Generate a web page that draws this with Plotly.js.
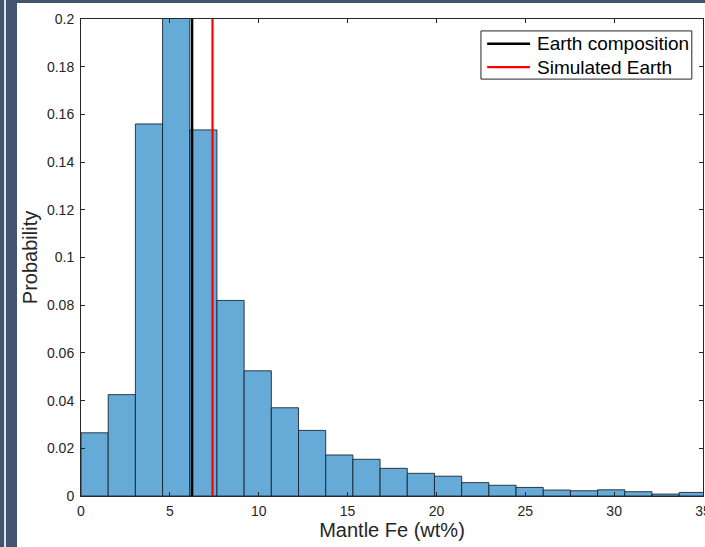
<!DOCTYPE html>
<html>
<head>
<meta charset="utf-8">
<script src="https://cdn.plot.ly/plotly-3.0.1.min.js"></script>
<style>
html,body{margin:0;padding:0;width:705px;height:547px;overflow:hidden;background:#435470;}
#stripe{position:absolute;left:4px;top:0;width:2px;height:547px;background:#dfe3ea;}
#wrap{position:absolute;left:17px;top:3px;width:720px;height:544px;background:#fff;overflow:hidden;}
#plot{width:720px;height:544px;}
</style>
</head>
<body>
<div id="stripe"></div>
<div id="wrap"><div id="plot"></div></div>
<script>
// Histogram bins (start of each bin, wt%) and probabilities
const binWidth = 1.53;
const binStarts = [0,1.53,3.06,4.59,6.12,7.65,9.18,10.71,12.24,13.77,15.30,16.83,18.36,19.89,21.42,22.95,24.48,26.01,27.54,29.07,30.60,32.13,33.66];
const probability = [0.0265,0.0425,0.156,0.215,0.1535,0.082,0.0525,0.037,0.0275,0.0172,0.0154,0.0116,0.0095,0.0083,0.0056,0.0045,0.0036,0.0025,0.0022,0.0026,0.0018,0.0008,0.0015];
const earthFe = 6.25;
const simulatedFe = 7.4;
const seriesNames = ['Earth composition', 'Simulated Earth'];
const seriesColors = ['#000000', '#ff0000'];
const xTicks = [0,5,10,15,20,25,30,35];
const yTicks = [0,0.02,0.04,0.06,0.08,0.1,0.12,0.14,0.16,0.18,0.2];
const yTickText = ['0','0.02','0.04','0.06','0.08','0.1','0.12','0.14','0.16','0.18','0.2'];

const centers = binStarts.map(s => s + binWidth/2);
const font = "'Liberation Sans', Arial, Helvetica, sans-serif";

const traces = [
  {type:'bar', x:centers, y:probability, width:binWidth,
   marker:{color:'rgb(102,170,215)', line:{color:'rgba(20,30,40,0.85)', width:1}},
   showlegend:false, hoverinfo:'skip'},
  {type:'scatter', mode:'lines', x:[earthFe,earthFe], y:[0,0.2],
   line:{color:seriesColors[0], width:2.5}, name:seriesNames[0], showlegend:false},
  {type:'scatter', mode:'lines', x:[simulatedFe,simulatedFe], y:[0,0.2],
   line:{color:seriesColors[1], width:2.2}, name:seriesNames[1], showlegend:false}
];

const axisCommon = {
  showgrid:false, zeroline:false, showline:true, mirror:'ticks',
  linecolor:'#262626', linewidth:1, ticks:'inside', ticklen:4, tickcolor:'#262626',
  tickfont:{family:font, size:14, color:'#262626'}
};

// Legend (drawn in paper coordinates, MATLAB style box)
const legX0 = 0.643, legX1 = 0.982, legYTop = 0.975, legYBot = 0.874;
const rowY = [0.948, 0.899];
const shapes = [
  {type:'rect', xref:'paper', yref:'paper', x0:legX0, x1:legX1, y0:legYBot, y1:legYTop,
   fillcolor:'#fff', line:{color:'#262626', width:1}, layer:'above'}
];
const annotations = [];
seriesNames.forEach((n, i) => {
  shapes.push({type:'line', xref:'paper', yref:'paper', x0:0.653, x1:0.722, y0:rowY[i], y1:rowY[i],
    line:{color:seriesColors[i], width:i===0?2.5:2.2}, layer:'above'});
  annotations.push({xref:'paper', yref:'paper', x:0.730, y:rowY[i], xanchor:'left', yanchor:'middle',
    text:n, showarrow:false, font:{family:font, size:19, color:'#000'}});
});

const layout = {
  width:720, height:544,
  margin:{l:64, r:34, t:16, b:51},
  paper_bgcolor:'#fff', plot_bgcolor:'#fff',
  bargap:0,
  xaxis:Object.assign({}, axisCommon, {
    range:[0,35], tickvals:xTicks, ticktext:xTicks.map(String), ticklabelstandoff:2,
    title:{text:'Mantle Fe (wt%)', font:{family:font, size:20, color:'#262626'}, standoff:4}
  }),
  yaxis:Object.assign({}, axisCommon, {
    range:[0,0.2], tickvals:yTicks, ticktext:yTickText, ticklabelstandoff:3,
    title:{text:'Probability', font:{family:font, size:20, color:'#262626'}, standoff:3}
  }),
  shapes:shapes,
  annotations:annotations,
  showlegend:false
};

Plotly.newPlot('plot', traces, layout, {displayModeBar:false, staticPlot:true});
</script>
</body>
</html>
